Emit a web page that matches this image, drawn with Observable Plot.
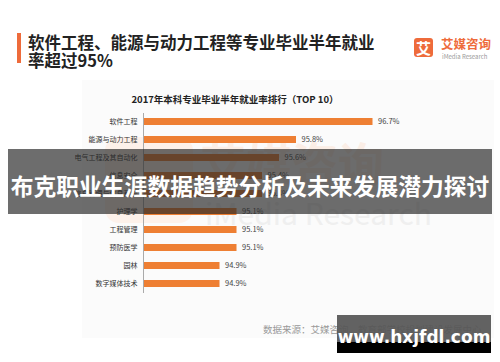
<!DOCTYPE html>
<html><head><meta charset="utf-8">
<script src="https://cdn.jsdelivr.net/npm/d3@7"></script>
<script src="https://cdn.jsdelivr.net/npm/@observablehq/plot@0.6"></script>
<style>
body{margin:0;background:#fff;font-family:"Noto Sans CJK SC","Noto Sans",sans-serif;}
#wrap{position:relative;width:500px;height:362px;overflow:hidden;background:#fff;}
.abs{position:absolute;white-space:nowrap;}
</style></head>
<body><div id="wrap">
<div class="abs" style="left:82px;top:80px;width:412px;height:258px;background:#fbfbfb;"></div>
<div class="abs" style="left:105px;top:137px;width:88px;height:86px;border-radius:14px;background:#fdf1ea;"></div>
<div class="abs" style="left:200px;top:128px;font-size:46px;font-weight:700;color:#fbeee6;">艾媒咨询</div>
<div class="abs" style="left:205px;top:190px;font-size:30px;color:#efefef;">iMedia Research</div>
<div class="abs" style="left:17px;top:33px;width:4px;height:30px;background:#ee6b3b;"></div>
<div class="abs" id="t1" style="left:28px;top:33px;font-size:16.5px;font-weight:700;color:#222;line-height:18px;">软件工程、能源与动力工程等专业毕业半年就业<br>率超过95%</div>
<div class="abs" style="left:414px;top:38px;width:19px;height:19px;border-radius:3px;background:#ee6b3b;color:#fff;font-size:15px;font-weight:700;line-height:19px;text-align:center;">艾</div>
<div class="abs" style="left:441px;top:36px;font-size:12.5px;font-weight:700;color:#ee6b3b;line-height:16px;">艾媒咨询</div>
<div class="abs" style="left:442px;top:53px;font-size:6px;color:#999;line-height:8px;">iMedia Research</div>
<div class="abs" style="left:0;top:92px;width:470px;text-align:center;font-size:9.5px;font-weight:700;color:#222;line-height:14px;">2017年本科专业毕业半年就业率排行（TOP 10）</div>
<div id="chart" class="abs" style="left:0;top:105px;"></div>
<div class="abs" style="left:263px;top:322px;font-size:9.5px;color:#999;line-height:14px;">数据来源：艾媒咨询、教育部学校规划建设发展中心</div>
<div class="abs" style="left:8px;top:149px;width:484px;height:65px;background:rgba(40,40,40,0.68);"></div>
<div class="abs" style="left:8px;top:171px;width:484px;text-align:center;font-size:22.8px;font-weight:700;color:#fff;line-height:30px;letter-spacing:0px;">布克职业生涯数据趋势分析及未来发展潜力探讨</div>
<div class="abs" style="left:337px;top:315px;width:154px;height:27px;background:rgba(85,85,85,0.92);"></div>
<div class="abs" style="left:337px;top:342px;width:154px;height:11px;background:#000;"></div>
<div class="abs" style="left:337px;top:325px;width:154px;text-align:center;font-size:17px;font-weight:700;color:#fff;line-height:24px;font-family:'DejaVu Sans',sans-serif;">www.hxjfdl.com</div>
</div>
<script>
const majors = ["软件工程","能源与动力工程","电气工程及其自动化","信息安全","信息管理与信息系统","护理学","工程管理","预防医学","园林","数字媒体技术"];
const rates = [96.7, 95.8, 95.6, 95.4, 95.4, 95.1, 95.1, 95.1, 94.9, 94.9];
const xMin = 94, xMax = 98;
const data = majors.map((m, i) => ({major: m, rate: rates[i]}));
const orange = "#ee7f33";
const chart = Plot.plot({
  width: 500, height: 195,
  marginLeft: 143, marginRight: 17, marginTop: 8, marginBottom: 7,
  style: {background: "transparent", fontFamily: "'Noto Sans CJK SC', sans-serif"},
  x: {domain: [xMin, xMax], axis: null},
  y: {domain: majors, paddingInner: 0.6, paddingOuter: 0.3, label: null},
  marks: [
    Plot.barX(data, {y: "major", x1: () => xMin, x2: "rate", fill: orange}),
    Plot.ruleX([xMin], {stroke: "#aaa", strokeWidth: 1}),
    Plot.text(data, {y: "major", x: "rate", text: d => d.rate.toFixed(1) + "%", dx: 5, textAnchor: "start", fontSize: 7.5, fill: "#444"}),
    Plot.axisY({tickSize: 0, tickPadding: 6, fontSize: 7, color: "#333", label: null})
  ]
});
document.getElementById("chart").appendChild(chart);
</script>
</body></html>
